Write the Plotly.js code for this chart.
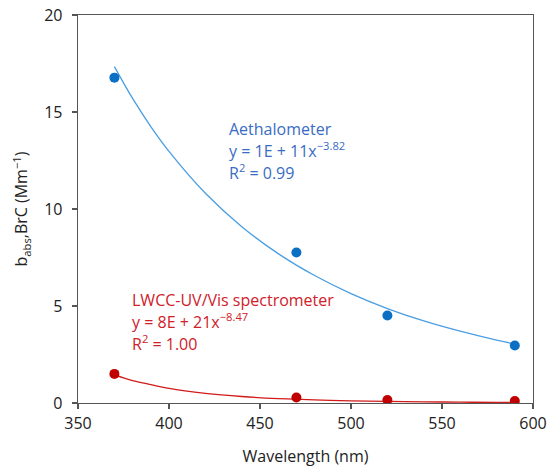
<!DOCTYPE html>
<html><head><meta charset="utf-8">
<script src="https://cdn.plot.ly/plotly-3.0.1.min.js"></script>
<style>body{margin:0;background:#fff}#c{width:548px;height:467px}</style>
</head><body><div id="c"></div>
<script>
// measured points
const wavelength = [370, 470, 520, 590];
const aethalometer = [16.77, 7.76, 4.51, 2.96];
const lwcc = [1.50, 0.28, 0.155, 0.10];
// fitted curves
const fitX = [370, 380, 390, 400, 420, 440, 460, 480, 500, 520, 540, 560, 580, 590];
const aethFit = [17.34, 15.70, 14.25, 12.97, 10.81, 9.09, 7.70, 6.57, 5.64, 4.87, 4.23, 3.70, 3.24, 3.04];
const lwccFit = [1.45, 1.157, 0.95, 0.749, 0.496, 0.334, 0.229, 0.160, 0.113, 0.081, 0.059, 0.043, 0.032, 0.028];
const xTicks = [350, 400, 450, 500, 550, 600];
const yTicks = [0, 5, 10, 15, 20];
const aethLabel = ['Aethalometer', 'y = 1E + 11x<sup>−3.82</sup>', 'R<sup>2</sup> = 0.99'];
const lwccLabel = ['LWCC-UV/Vis spectrometer', 'y = 8E + 21x<sup>−8.47</sup>', 'R<sup>2</sup> = 1.00'];

const blue = '#0b6fc4', blueLine = '#4a9ee2', red = '#c00000', redLine = '#d31a1a';
const font = 'Open Sans, Noto Sans, sans-serif';

const traces = [
  {x: fitX, y: aethFit, mode: 'lines', line: {color: blueLine, width: 1.3, shape: 'spline'}, hoverinfo: 'skip'},
  {x: fitX, y: lwccFit, mode: 'lines', line: {color: redLine, width: 1.3, shape: 'spline'}, hoverinfo: 'skip'},
  {x: wavelength, y: aethalometer, mode: 'markers', marker: {color: blue, size: 10}},
  {x: wavelength, y: lwcc, mode: 'markers', marker: {color: red, size: 10}}
];

const axisCommon = {
  showgrid: false, zeroline: false, showline: true, linecolor: '#555', linewidth: 1.3,
  mirror: true, ticks: 'outside', ticklen: 5, tickwidth: 1.2, tickcolor: '#555',
  tickfont: {family: font, size: 16, color: '#222'}, automargin: false
};

function block(lines, x, y0, color) {
  // lines placed 21-22 px apart (~1.12 data units)
  return lines.map((t, i) => ({
    x: x, y: y0 - i * 1.13, xref: 'x', yref: 'y', xanchor: 'left', yanchor: 'bottom',
    yshift: -10, align: 'left', showarrow: false, text: t,
    font: {family: font, size: 16, color: color}
  }));
}

const layout = {
  width: 548, height: 467,
  margin: {l: 78, r: 15, t: 15, b: 64},
  paper_bgcolor: '#fff', plot_bgcolor: '#fff',
  showlegend: false,
  font: {family: font},
  xaxis: Object.assign({}, axisCommon, {
    range: [350, 600], tickvals: xTicks,
    title: {text: 'Wavelength (nm)', font: {family: font, size: 16, color: '#222'}, standoff: 20}
  }),
  yaxis: Object.assign({}, axisCommon, {
    range: [0, 20], tickvals: yTicks, ticklabelstandoff: 6,
    title: {text: 'b<sub>abs</sub>,BrC (Mm<sup>−1</sup>)', font: {family: font, size: 16, color: '#222'}, standoff: 12}
  }),
  annotations: block(aethLabel, 432, 13.98, '#3a6cc4').concat(block(lwccLabel, 378.5, 5.13, '#d0202a'))
};
Plotly.newPlot('c', traces, layout, {displayModeBar: false, staticPlot: true});
</script></body></html>
